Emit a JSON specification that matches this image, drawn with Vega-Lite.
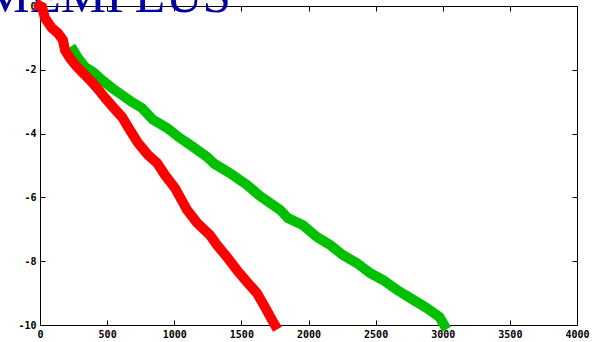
{
  "$schema": "https://vega.github.io/schema/vega-lite/v6.json",
  "width": 537,
  "height": 319,
  "autosize": {"type": "none"},
  "padding": {"left": 40, "top": 6, "right": 15, "bottom": 17},
  "background": "white",
  "config": {
    "view": {"stroke": "#000000", "strokeWidth": 1},
    "axis": {"grid": false, "domain": false, "tickColor": "#000000", "tickSize": -5, "labelColor": "#000000", "labelFont": "DejaVu Sans Mono", "labelFontWeight": "bold", "labelFontSize": 10, "labelOverlap": false, "title": null}
  },
  "datasets": {
    "titles": [{"name": "MEMPLUS"}],
    "curves": [
    {"series": "s1", "i": 0, "x": 250, "y": -1.4},
    {"series": "s1", "i": 1, "x": 283, "y": -1.63},
    {"series": "s1", "i": 2, "x": 335, "y": -1.91},
    {"series": "s1", "i": 3, "x": 395, "y": -2.07},
    {"series": "s1", "i": 4, "x": 462, "y": -2.32},
    {"series": "s1", "i": 5, "x": 536, "y": -2.57},
    {"series": "s1", "i": 6, "x": 611, "y": -2.79},
    {"series": "s1", "i": 7, "x": 685, "y": -3.01},
    {"series": "s1", "i": 8, "x": 760, "y": -3.2},
    {"series": "s1", "i": 9, "x": 842, "y": -3.57},
    {"series": "s1", "i": 10, "x": 946, "y": -3.82},
    {"series": "s1", "i": 11, "x": 1043, "y": -4.14},
    {"series": "s1", "i": 12, "x": 1140, "y": -4.42},
    {"series": "s1", "i": 13, "x": 1244, "y": -4.73},
    {"series": "s1", "i": 14, "x": 1300, "y": -4.95},
    {"series": "s1", "i": 15, "x": 1415, "y": -5.24},
    {"series": "s1", "i": 16, "x": 1542, "y": -5.61},
    {"series": "s1", "i": 17, "x": 1639, "y": -5.96},
    {"series": "s1", "i": 18, "x": 1788, "y": -6.39},
    {"series": "s1", "i": 19, "x": 1847, "y": -6.65},
    {"series": "s1", "i": 20, "x": 1959, "y": -6.87},
    {"series": "s1", "i": 21, "x": 2063, "y": -7.24},
    {"series": "s1", "i": 22, "x": 2160, "y": -7.49},
    {"series": "s1", "i": 23, "x": 2257, "y": -7.81},
    {"series": "s1", "i": 24, "x": 2361, "y": -8.06},
    {"series": "s1", "i": 25, "x": 2458, "y": -8.37},
    {"series": "s1", "i": 26, "x": 2555, "y": -8.59},
    {"series": "s1", "i": 27, "x": 2659, "y": -8.9},
    {"series": "s1", "i": 28, "x": 2756, "y": -9.15},
    {"series": "s1", "i": 29, "x": 2883, "y": -9.47},
    {"series": "s1", "i": 30, "x": 2975, "y": -9.75},
    {"series": "s1", "i": 31, "x": 3010, "y": -10.0},
    {"series": "s2", "i": 0, "x": 0, "y": 0},
    {"series": "s2", "i": 1, "x": 15, "y": -0.03},
    {"series": "s2", "i": 2, "x": 37, "y": -0.38},
    {"series": "s2", "i": 3, "x": 89, "y": -0.69},
    {"series": "s2", "i": 4, "x": 134, "y": -0.85},
    {"series": "s2", "i": 5, "x": 171, "y": -1.07},
    {"series": "s2", "i": 6, "x": 186, "y": -1.38},
    {"series": "s2", "i": 7, "x": 223, "y": -1.63},
    {"series": "s2", "i": 8, "x": 276, "y": -1.91},
    {"series": "s2", "i": 9, "x": 313, "y": -2.07},
    {"series": "s2", "i": 10, "x": 372, "y": -2.32},
    {"series": "s2", "i": 11, "x": 425, "y": -2.57},
    {"series": "s2", "i": 12, "x": 484, "y": -2.88},
    {"series": "s2", "i": 13, "x": 544, "y": -3.17},
    {"series": "s2", "i": 14, "x": 611, "y": -3.48},
    {"series": "s2", "i": 15, "x": 670, "y": -3.89},
    {"series": "s2", "i": 16, "x": 730, "y": -4.29},
    {"series": "s2", "i": 17, "x": 805, "y": -4.67},
    {"series": "s2", "i": 18, "x": 872, "y": -4.92},
    {"series": "s2", "i": 19, "x": 931, "y": -5.3},
    {"series": "s2", "i": 20, "x": 1006, "y": -5.71},
    {"series": "s2", "i": 21, "x": 1095, "y": -6.39},
    {"series": "s2", "i": 22, "x": 1170, "y": -6.8},
    {"series": "s2", "i": 23, "x": 1266, "y": -7.18},
    {"series": "s2", "i": 24, "x": 1318, "y": -7.49},
    {"series": "s2", "i": 25, "x": 1393, "y": -7.87},
    {"series": "s2", "i": 26, "x": 1467, "y": -8.28},
    {"series": "s2", "i": 27, "x": 1542, "y": -8.65},
    {"series": "s2", "i": 28, "x": 1616, "y": -9.0},
    {"series": "s2", "i": 29, "x": 1676, "y": -9.44},
    {"series": "s2", "i": 30, "x": 1728, "y": -9.84},
    {"series": "s2", "i": 31, "x": 1750, "y": -10.0}
  ]},
  "layer": [
    {
      "data": {"name": "titles"},
      "mark": {"type": "text", "align": "left", "baseline": "alphabetic", "font": "Liberation Serif", "fontSize": 51, "color": "#0000a0", "clip": false},
      "encoding": {
        "x": {"datum": -415, "type": "quantitative", "axis": null},
        "y": {"datum": -0.2, "type": "quantitative", "axis": null},
        "text": {"field": "name"}
      }
    },
    {
      "data": {"name": "curves"},
      "mark": {"type": "line", "strokeWidth": 10, "strokeCap": "square", "strokeJoin": "miter", "clip": false},
      "encoding": {
        "x": {"field": "x", "type": "quantitative", "scale": {"domain": [0, 4000], "nice": false, "zero": false},
              "axis": {"orient": "bottom", "values": [0, 500, 1000, 1500, 2000, 2500, 3000, 3500, 4000], "labelFlush": false, "labelPadding": 9, "labelExpr": "'' + datum.value"}},
        "y": {"field": "y", "type": "quantitative", "scale": {"domain": [-10, 0], "nice": false, "zero": false},
              "axis": {"orient": "left", "values": [-10, -8, -6, -4, -2, 0], "labelPadding": 9, "labelExpr": "datum.value < 0 ? '-' + (-datum.value) : '' + datum.value"}},
        "color": {"field": "series", "type": "nominal", "scale": {"domain": ["s1", "s2"], "range": ["#00c000", "#ff0000"]}, "legend": null},
        "order": {"field": "i", "type": "quantitative"}
      }
    },
    {
      "data": {"name": "curves"},
      "mark": {"type": "point", "opacity": 0},
      "encoding": {
        "x": {"field": "x", "type": "quantitative", "axis": {"orient": "top", "values": [0, 500, 1000, 1500, 2000, 2500, 3000, 3500, 4000], "labels": false}},
        "y": {"field": "y", "type": "quantitative", "axis": {"orient": "right", "values": [-10, -8, -6, -4, -2, 0], "labels": false}}
      }
    }
  ],
  "resolve": {"axis": {"x": "independent", "y": "independent"}}
}
